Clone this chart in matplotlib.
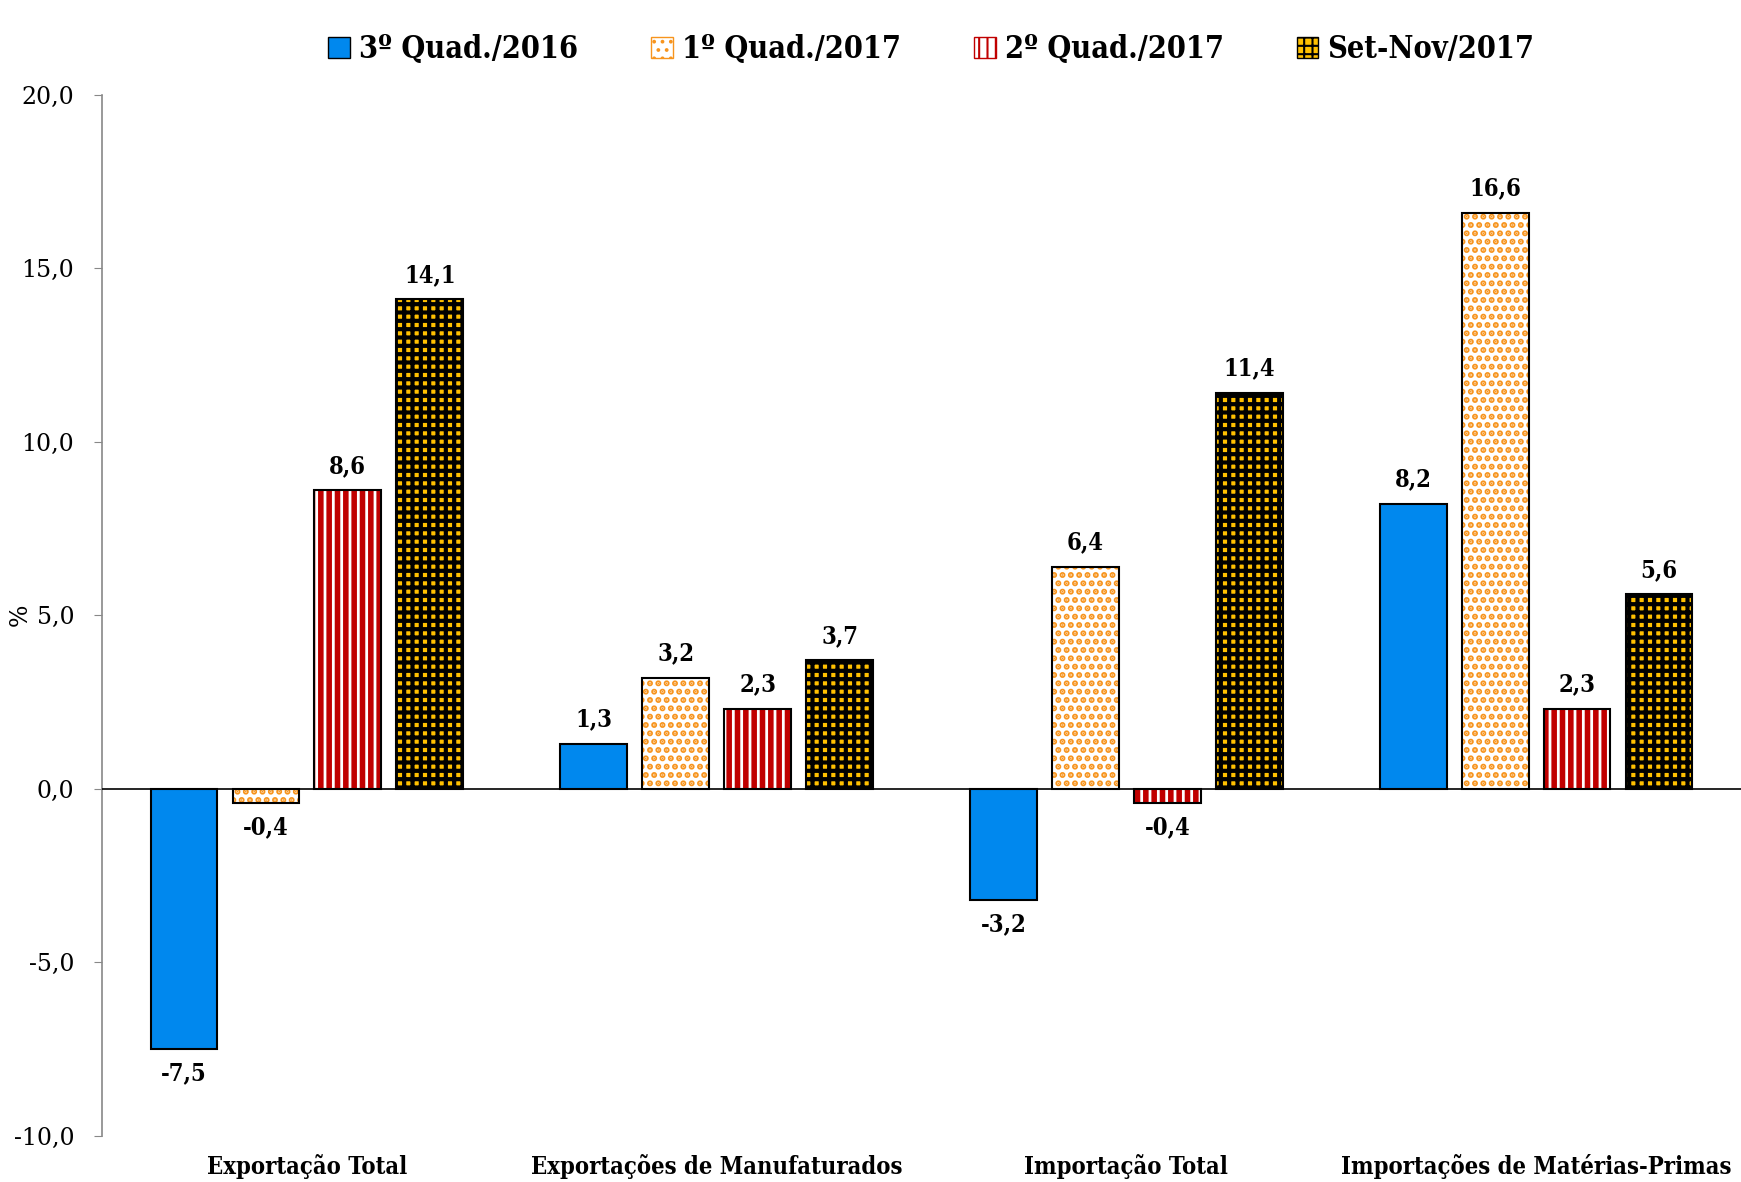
import numpy as np
import matplotlib.pyplot as plt
from matplotlib.patches import Patch

# data
categories = ['Exportação Total', 'Exportações de Manufaturados',
              'Importação Total', 'Importações de Matérias-Primas']
series = ['3º Quad./2016', '1º Quad./2017', '2º Quad./2017', 'Set-Nov/2017']
q3_2016 = [-7.5, 1.3, -3.2, 8.2]
q1_2017 = [-0.4, 3.2, 6.4, 16.6]
q2_2017 = [8.6, 2.3, -0.4, 2.3]
set_nov_2017 = [14.1, 3.7, 11.4, 5.6]
yticks = [-10, -5, 0, 5, 10, 15, 20]

# styles: (face, hatch, hatch colour, hatch linewidth)
styles = [
    ('#0088EE', None, None, 1.0),
    ('white', '..', '#F7941D', 3.0),
    ('white', '||', '#C00000', 4.0),
    ('#FFC000', '++', 'black', 3.0),
]

plt.rcParams['font.family'] = ['DejaVu Serif']

fig = plt.figure(figsize=(17.41, 11.82), dpi=100)
ax = fig.add_axes([0.0586, 0.039, 0.9414, 0.881])

x = np.arange(len(categories))
width = 0.163
step = 0.2
all_vals = [q3_2016, q1_2017, q2_2017, set_nov_2017]
bold_c = {'weight': 'bold', 'stretch': 'condensed'}

handles = []
for i, vals in enumerate(all_vals):
    face, hatch, hcol, hlw = styles[i]
    plt.rcParams['hatch.linewidth'] = hlw
    pos = x + (i - 1.5) * step
    if hatch:
        ax.bar(pos, vals, width, color=face, hatch=hatch, edgecolor=hcol, linewidth=0, zorder=2)
    else:
        ax.bar(pos, vals, width, color=face, linewidth=0, zorder=2)
    ax.bar(pos, vals, width, fill=False, edgecolor='black', linewidth=1.5, zorder=3)
    plt.rcParams['hatch.linewidth'] = 1.5
    handles.append(Patch(facecolor=face, hatch=hatch, edgecolor=hcol if hcol else 'black', linewidth=1))
    for p, v in zip(pos, vals):
        lab = f'{v:.1f}'.replace('.', ',')
        if v >= 0:
            ax.annotate(lab, (p, v), xytext=(0, 9), textcoords='offset points',
                        ha='center', va='bottom', fontsize=17, **bold_c)
        else:
            ax.annotate(lab, (p, v), xytext=(0, -9), textcoords='offset points',
                        ha='center', va='top', fontsize=17, **bold_c)

ax.axhline(0, color='black', linewidth=1.2, zorder=4)
ax.set_xlim(-0.5, 3.5)
ax.set_ylim(-10, 20)
ax.set_yticks(yticks)
ax.set_yticklabels([f'{t:.1f}'.replace('.', ',') for t in yticks], fontsize=17)
ax.set_xticks(x)
ax.set_xticklabels(categories, fontsize=17, **bold_c)
ax.tick_params(axis='x', length=0, pad=13)
ax.tick_params(axis='y', length=6, color='#888888', pad=14)
for s in ['top', 'right', 'bottom']:
    ax.spines[s].set_visible(False)
ax.spines['left'].set_color('#888888')
ax.spines['left'].set_linewidth(1.2)
ax.set_ylabel('%', fontsize=17)
ax.yaxis.set_label_coords(-0.043, 0.5)

fig.legend(handles, series, loc='center', bbox_to_anchor=(0.535, 0.958), ncol=4,
           frameon=False, handlelength=0.7, handleheight=0.7,
           handletextpad=0.3, columnspacing=2.4,
           prop={'weight': 'bold', 'size': 22, 'stretch': 'condensed'})

fig.savefig('out.png', dpi=100)
